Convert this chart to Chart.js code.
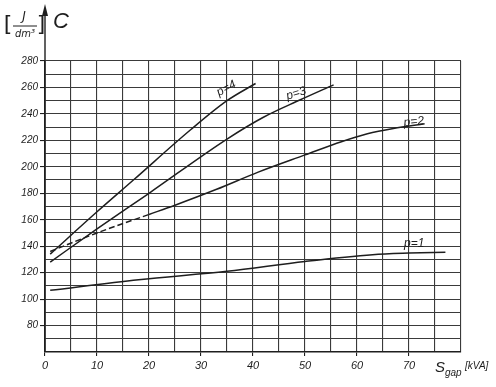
<!DOCTYPE html>
<html>
<head>
<meta charset="utf-8">
<script src="https://cdn.jsdelivr.net/npm/chart.js@4"></script>
<style>
  html, body { margin: 0; padding: 0; background: #fff; }
  #wrap { width: 496px; height: 387px; }
</style>
</head>
<body>
<div id="wrap"><canvas id="chart" width="496" height="387"></canvas></div>
<script>
// values (S_gap in kVA, C in J/dm3)
const sGap4 = [1, 10, 17, 28, 35, 40.5];
const cP4   = [134, 166, 190, 228, 250, 263];

const sGap3 = [1, 10, 20, 35, 42, 49, 55.5];
const cP3   = [128, 153, 180, 221, 237.5, 250.5, 262];

const sGap2 = [1, 10, 20, 25, 33, 41, 50, 57, 62, 67, 73];
const cP2   = [136, 150, 164, 171, 183, 196, 209, 219, 225, 229, 232.5];

const sGap1 = [1, 18, 35, 50, 63, 70, 77];
const cP1   = [106.6, 114.7, 121, 128.5, 133.6, 134.8, 135.5];

const seriesNames = ['p=4', 'p=3', 'p=2', 'p=1'];
// where each curve name is written (data units) and its tilt
const nameSpots = [[35.2, 257, -0.5], [48.5, 253, -0.3], [71, 231.5, -0.1], [71, 139.5, 0]];

const xTicks = [0, 10, 20, 30, 40, 50, 60, 70];
const yTicks = [80, 100, 120, 140, 160, 180, 200, 220, 240, 260, 280];

function pts(xs, ys) {
  return xs.map((x, i) => ({ x: x, y: ys[i] }));
}

const ink = '#1e1e1e';
const gridInk = '#3a3a3a';

const decor = {
  id: 'decor',
  afterDraw(chart) {
    const c = chart.ctx;
    const a = chart.chartArea;
    const sx = chart.scales.x, sy = chart.scales.y;
    c.save();
    // y axis runs up to an arrow
    c.strokeStyle = ink;
    c.fillStyle = ink;
    c.lineWidth = 1.4;
    c.beginPath();
    c.moveTo(a.left, a.bottom);
    c.lineTo(a.left, 10);
    c.stroke();
    c.beginPath();
    c.moveTo(a.left, 4);
    c.lineTo(a.left - 3, 16);
    c.lineTo(a.left + 3, 16);
    c.closePath();
    c.fill();

    // y axis title
    c.font = 'italic 12px "DejaVu Sans"';
    c.textAlign = 'center';
    c.textBaseline = 'middle';
    c.fillText('J', 24, 17);
    c.font = 'italic 10px "DejaVu Sans"';
    c.fillText('dm\u00B3', 25, 34);
    c.lineWidth = 1;
    c.beginPath();
    c.moveTo(13, 26); c.lineTo(37, 26);
    c.stroke();
    c.font = '22px "DejaVu Sans"';
    c.fillText('[', 8, 25);
    c.fillText(']', 41, 25);
    c.font = 'italic 22px "Liberation Sans"';
    c.textAlign = 'left';
    c.fillText('C', 53, 22);

    // x axis title
    c.font = 'italic 15px "Liberation Sans"';
    c.textAlign = 'left';
    c.textBaseline = 'alphabetic';
    c.fillText('S', 435, 372);
    c.font = 'italic 10px "Liberation Sans"';
    c.fillText('gap', 445, 376);
    c.fillText('[kVA]', 465, 369);

    // curve names
    c.font = 'italic 12px "Liberation Sans"';
    c.textAlign = 'center';
    c.textBaseline = 'alphabetic';
    nameSpots.forEach((s, i) => {
      c.save();
      c.translate(sx.getPixelForValue(s[0]), sy.getPixelForValue(s[1]));
      c.rotate(s[2]);
      c.fillText(seriesNames[i], 0, 0);
      c.restore();
    });
    c.restore();
  }
};

const ctx = document.getElementById('chart');
new Chart(ctx, {
  type: 'line',
  data: {
    datasets: [
      { label: seriesNames[0], data: pts(sGap4, cP4) },
      { label: seriesNames[1], data: pts(sGap3, cP3) },
      {
        label: seriesNames[2], data: pts(sGap2, cP2),
        segment: { borderDash: s => (s.p1.parsed.x <= 20 ? [6, 3] : undefined) }
      },
      { label: seriesNames[3], data: pts(sGap1, cP1) }
    ].map(d => Object.assign({
      borderColor: ink,
      borderWidth: 1.5,
      pointRadius: 0,
      fill: false,
      cubicInterpolationMode: 'monotone'
    }, d))
  },
  options: {
    responsive: false,
    animation: false,
    layout: { padding: { top: 61, right: 35, left: 0, bottom: 0 } },
    plugins: { legend: { display: false }, tooltip: { enabled: false } },
    scales: {
      x: {
        type: 'linear',
        min: 0, max: 80,
        afterFit: s => { s.height = 35; },
        afterBuildTicks: s => {
          const t = [];
          for (let v = 0; v <= 80; v += 5) t.push({ value: v });
          s.ticks = t;
        },
        grid: {
          color: gridInk,
          lineWidth: 1.1,
          tickLength: 4,
          tickColor: c => (c.tick && c.tick.value % 10 === 0 && c.tick.value < 80 ? ink : 'rgba(0,0,0,0)')
        },
        border: { color: ink, width: 1.4 },
        ticks: {
          color: ink,
          padding: 3,
          maxRotation: 0,
          autoSkip: false,
          font: { family: 'Liberation Sans', style: 'italic', size: 11 },
          callback: v => (xTicks.includes(v) ? String(v) : '')
        }
      },
      y: {
        min: 60, max: 280,
        afterFit: s => { s.width = 45; },
        afterBuildTicks: s => {
          const t = [];
          for (let v = 60; v <= 280; v += 10) t.push({ value: v });
          s.ticks = t;
        },
        grid: {
          color: gridInk,
          lineWidth: 1.1,
          tickLength: 5,
          tickColor: c => (c.tick && yTicks.includes(c.tick.value) ? ink : 'rgba(0,0,0,0)')
        },
        border: { color: ink, width: 1.4 },
        ticks: {
          color: ink,
          padding: 2,
          autoSkip: false,
          font: { family: 'Liberation Sans', style: 'italic', size: 10 },
          callback: v => (yTicks.includes(v) ? String(v) : '')
        }
      }
    }
  },
  plugins: [decor]
});
</script>
</body>
</html>
